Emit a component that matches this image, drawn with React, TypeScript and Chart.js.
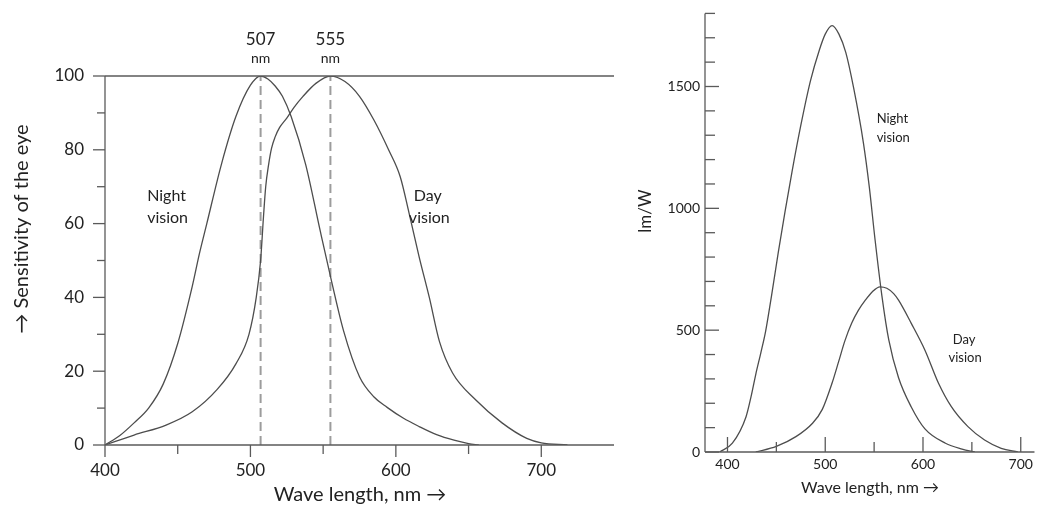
import React, { useEffect, useRef } from "react";
import { Chart, registerables } from "chart.js";
Chart.register(...registerables);

// ---------- Left chart: relative sensitivity (%) ----------
const leftNightNm = [400, 410, 420, 430, 440, 450, 460, 465, 470, 480, 490, 500, 507, 512, 517, 522, 528, 538, 548, 556, 564, 575, 585, 594, 605, 616, 628, 640, 650, 657];
const leftNightVal = [0, 2.5, 6, 10, 16.5, 27.5, 43, 52, 60, 76, 89, 97.5, 100, 99.2, 97.3, 94.5, 89, 76, 58, 44, 31, 18.5, 13, 10.2, 7.3, 5, 2.8, 1.3, 0.4, 0];
const leftDayNm = [400, 420, 442, 460, 477, 490, 499, 504, 507, 509, 510.5, 512.5, 514.5, 517, 520, 525, 530, 536, 545, 555, 565, 575, 585, 595, 603, 609, 616, 623, 630, 639, 655, 673, 690, 700, 718];
const leftDayVal = [0, 2.7, 5.4, 9, 15, 22, 30, 40, 50, 62, 70, 76, 80.4, 83.5, 86, 88.6, 91.5, 94.4, 98, 100, 98.5, 94.5, 88, 80, 72.7, 63, 51, 40, 28, 19.5, 12.2, 6, 1.8, 0.6, 0];
const peakNm = [507, 555];
const peakLabels = ["507", "555"];
const leftXMajor = [400, 500, 600, 700];
const leftXMinor = [450, 550, 650];
const leftYMajor = [0, 20, 40, 60, 80, 100];
const leftYMinor = [10, 30, 50, 70, 90];

// ---------- Right chart: luminous efficacy (lm/W) ----------
const rightNightNm = [392, 405, 419, 424, 429, 434, 439, 445, 452, 459, 466, 475, 485, 494, 500, 507, 514, 521, 529, 539, 545, 551, 558, 565, 575, 588, 602, 623, 640, 653];
const rightNightVal = [0, 36, 145, 225, 320, 405, 495, 640, 820, 990, 1150, 1340, 1525, 1650, 1715, 1750, 1715, 1640, 1495, 1270, 1090, 870, 640, 460, 305, 185, 95, 36, 12, 0];
const rightDayNm = [429, 450, 470, 487, 497, 507, 514, 520, 527, 534, 541, 548, 556, 563, 570, 575, 588, 602, 616, 629, 646, 663, 680, 697];
const rightDayVal = [0, 23, 63, 118, 175, 283, 375, 455, 528, 582, 623, 657, 678, 672, 650, 623, 528, 418, 281, 186, 104, 49, 15, 0];
const rightXMajor = [400, 500, 600, 700];
const rightXMinor = [450, 550, 650];
const rightYMajor = [0, 500, 1000, 1500];
const rightYMinor = [100, 200, 300, 400, 600, 700, 800, 900, 1100, 1200, 1300, 1400, 1600, 1700, 1800];

const FONT = "Lato, 'Open Sans', sans-serif";
const TEXT = "#222";
const CURVE = "#4d4d4d";
const AXIS = "#5a5a5a";

const pts = (xs: number[], ys: number[]) => xs.map((x, i) => ({ x, y: ys[i] }));

type Txt = { text: string; x: number; y: number; size: number; align: CanvasTextAlign };
type TitleCfg = { text: string; cx: number; cy: number; size: number; rotate: boolean };
type DecorCfg = {
  xMajor: number[]; xMinor: number[]; yMajor: number[]; yMinor: number[];
  xMajorLen: number; xMinorLen: number; yMajorLen: number; yMinorLen: number;
  inward: boolean; topLine: boolean; xExtend: number;
  texts: Txt[]; titles: TitleCfg[]; peaks?: { nm: number[]; labels: string[] };
};

function makeDecor(cfg: DecorCfg) {
  return {
    id: "decor",
    afterDraw(chart: any) {
      const ctx: CanvasRenderingContext2D = chart.ctx;
      const xs = chart.scales.x;
      const ys = chart.scales.y;
      const a = chart.chartArea;
      const line = (x1: number, y1: number, x2: number, y2: number) => {
        ctx.beginPath();
        ctx.moveTo(x1, y1);
        ctx.lineTo(x2, y2);
        ctx.stroke();
      };
      ctx.save();
      ctx.strokeStyle = AXIS;
      ctx.lineWidth = 1.3;
      line(a.left, a.top, a.left, a.bottom);
      line(a.left, a.bottom, a.right + cfg.xExtend, a.bottom);
      const d = cfg.inward ? -1 : 1;
      cfg.xMajor.forEach((v) => {
        const x = xs.getPixelForValue(v);
        line(x, a.bottom, x, a.bottom + d * cfg.xMajorLen);
      });
      cfg.xMinor.forEach((v) => {
        const x = xs.getPixelForValue(v);
        line(x, a.bottom, x, a.bottom + d * cfg.xMinorLen);
      });
      cfg.yMajor.forEach((v) => {
        const y = ys.getPixelForValue(v);
        line(a.left, y, a.left - d * cfg.yMajorLen, y);
      });
      cfg.yMinor.forEach((v) => {
        const y = ys.getPixelForValue(v);
        line(a.left, y, a.left - d * cfg.yMinorLen, y);
      });
      if (cfg.topLine) {
        const y = ys.getPixelForValue(ys.max);
        line(a.left, y, a.right, y);
      }
      ctx.fillStyle = TEXT;
      ctx.textBaseline = "middle";
      if (cfg.peaks) {
        cfg.peaks.nm.forEach((nm, i) => {
          const x = xs.getPixelForValue(nm);
          ctx.textAlign = "center";
          ctx.font = `17px ${FONT}`;
          ctx.fillText(cfg.peaks!.labels[i], x, a.top - 36);
          ctx.font = `14px ${FONT}`;
          ctx.fillText("nm", x, a.top - 18);
        });
      }
      cfg.texts.forEach((t) => {
        ctx.font = `${t.size}px ${FONT}`;
        ctx.textAlign = t.align;
        ctx.fillText(t.text, xs.getPixelForValue(t.x), ys.getPixelForValue(t.y));
      });
      cfg.titles.forEach((t) => {
        ctx.save();
        ctx.font = `${t.size}px ${FONT}`;
        ctx.textAlign = "center";
        ctx.translate(t.cx, t.cy);
        if (t.rotate) ctx.rotate(-Math.PI / 2);
        ctx.fillText(t.text, 0, 0);
        ctx.restore();
      });
      ctx.restore();
    },
  };
}

function curve(data: { x: number; y: number }[]) {
  return {
    data,
    borderColor: CURVE,
    borderWidth: 1.3,
    pointRadius: 0,
    cubicInterpolationMode: "monotone" as const,
    fill: false,
  };
}

function dashed(nm: number, top: number) {
  return {
    data: [{ x: nm, y: 0 }, { x: nm, y: top }],
    borderColor: "#9c9c9c",
    borderWidth: 2,
    borderDash: [9, 5],
    pointRadius: 0,
    fill: false,
  };
}

const plainLabel = (v: any) => String(v);

function LeftChart() {
  const ref = useRef<HTMLCanvasElement>(null);
  useEffect(() => {
    const chart = new Chart(ref.current!, {
      type: "line",
      data: {
        datasets: [
          curve(pts(leftNightNm, leftNightVal)),
          curve(pts(leftDayNm, leftDayVal)),
          ...peakNm.map((nm) => dashed(nm, 100)),
        ] as any,
      },
      options: {
        responsive: false,
        animation: false,
        events: [],
        layout: { padding: { left: 0, right: 6, top: 76, bottom: 0 } },
        plugins: { legend: { display: false }, tooltip: { enabled: false } },
        scales: {
          x: {
            type: "linear",
            min: 400,
            max: 750,
            afterFit: (s: any) => { s.height = 66; },
            afterBuildTicks: (s: any) => { s.ticks = leftXMajor.map((v) => ({ value: v })); },
            grid: { display: false, drawTicks: false },
            border: { display: false },
            ticks: { color: TEXT, font: { family: FONT, size: 17 }, padding: 15, maxRotation: 0, callback: plainLabel },
          },
          y: {
            type: "linear",
            min: 0,
            max: 100,
            afterFit: (s: any) => { s.width = 105; },
            afterBuildTicks: (s: any) => { s.ticks = leftYMajor.map((v) => ({ value: v })); },
            grid: { display: false, drawTicks: false },
            border: { display: false },
            ticks: { color: TEXT, font: { family: FONT, size: 17 }, padding: 21, callback: plainLabel },
          },
        },
      },
      plugins: [
        makeDecor({
          xMajor: leftXMajor, xMinor: leftXMinor, yMajor: leftYMajor, yMinor: leftYMinor,
          xMajorLen: 12, xMinorLen: 9, yMajorLen: 12, yMinorLen: 8,
          inward: false, topLine: true, xExtend: 0,
          peaks: { nm: peakNm, labels: peakLabels },
          texts: [
            { text: "Night", x: 429, y: 67.5, size: 16, align: "left" },
            { text: "vision", x: 429, y: 61.5, size: 16, align: "left" },
            { text: "Day", x: 622, y: 67.5, size: 16, align: "center" },
            { text: "vision", x: 623, y: 61.5, size: 16, align: "center" },
          ],
          titles: [
            { text: "Wave length, nm \u2192", cx: 360, cy: 495, size: 20, rotate: false },
            { text: "\u2192 Sensitivity of the eye", cx: 22, cy: 229, size: 20, rotate: true },
          ],
        }) as any,
      ],
    } as any);
    return () => chart.destroy();
  }, []);
  return <canvas ref={ref} width={620} height={511} style={{ position: "absolute", left: 0, top: 0, width: 620, height: 511 }} />;
}

function RightChart() {
  const ref = useRef<HTMLCanvasElement>(null);
  useEffect(() => {
    const chart = new Chart(ref.current!, {
      type: "line",
      data: {
        datasets: [
          curve(pts(rightNightNm, rightNightVal)),
          curve(pts(rightDayNm, rightDayVal)),
        ] as any,
      },
      options: {
        responsive: false,
        animation: false,
        events: [],
        layout: { padding: { left: 0, right: 2, top: 13, bottom: 0 } },
        plugins: { legend: { display: false }, tooltip: { enabled: false } },
        scales: {
          x: {
            type: "linear",
            min: 377,
            max: 712,
            afterFit: (s: any) => { s.height = 59; },
            afterBuildTicks: (s: any) => { s.ticks = rightXMajor.map((v) => ({ value: v })); },
            grid: { display: false, drawTicks: false },
            border: { display: false },
            ticks: { color: TEXT, font: { family: FONT, size: 14 }, padding: 4, maxRotation: 0, callback: plainLabel },
          },
          y: {
            type: "linear",
            min: 0,
            max: 1800,
            afterFit: (s: any) => { s.width = 85; },
            afterBuildTicks: (s: any) => { s.ticks = rightYMajor.map((v) => ({ value: v })); },
            grid: { display: false, drawTicks: false },
            border: { display: false },
            ticks: { color: TEXT, font: { family: FONT, size: 14 }, padding: 5, callback: plainLabel },
          },
        },
      },
      plugins: [
        makeDecor({
          xMajor: rightXMajor, xMinor: rightXMinor, yMajor: rightYMajor, yMinor: rightYMinor,
          xMajorLen: 15, xMinorLen: 10, yMajorLen: 14, yMinorLen: 10,
          inward: true, topLine: false, xExtend: 2,
          texts: [
            { text: "Night", x: 552.6, y: 1369, size: 13, align: "left" },
            { text: "vision", x: 552.6, y: 1291, size: 13, align: "left" },
            { text: "Day", x: 642, y: 459, size: 13, align: "center" },
            { text: "vision", x: 643, y: 385, size: 13, align: "center" },
          ],
          titles: [
            { text: "Wave length, nm \u2192", cx: 250, cy: 488, size: 16, rotate: false },
            { text: "lm/W", cx: 26, cy: 211, size: 17, rotate: true },
          ],
        }) as any,
      ],
    } as any);
    return () => chart.destroy();
  }, []);
  return <canvas ref={ref} width={417} height={511} style={{ position: "absolute", left: 620, top: 0, width: 417, height: 511 }} />;
}

export default function App() {
  return (
    <div style={{ position: "absolute", left: 0, top: 0, width: 1037, height: 511, background: "#fff", overflow: "hidden" }}>
      <LeftChart />
      <RightChart />
    </div>
  );
}
